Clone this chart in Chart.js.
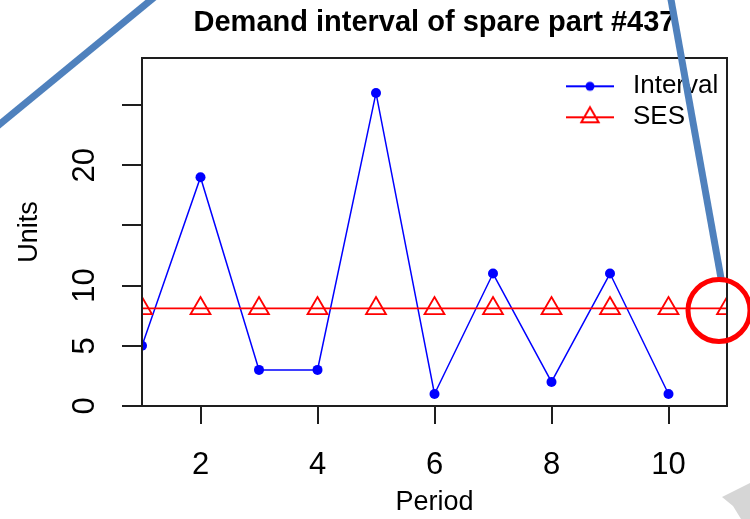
<!DOCTYPE html>
<html>
<head>
<meta charset="utf-8">
<script src="https://cdn.jsdelivr.net/npm/chart.js@4.4.1/dist/chart.umd.min.js"></script>
<style>
  html, body { margin: 0; padding: 0; background: #ffffff; }
  canvas { display: block; }
</style>
</head>
<body>
<canvas id="chart" width="750" height="519"></canvas>
<script>
// Demand interval series and its SES forecast level
const periods = [1, 2, 3, 4, 5, 6, 7, 8, 9, 10];
const intervalValues = [5, 19, 3, 3, 26, 1, 11, 2, 11, 1];
const sesPeriods = [1, 2, 3, 4, 5, 6, 7, 8, 9, 10, 11];
const sesValues = [8.1, 8.1, 8.1, 8.1, 8.1, 8.1, 8.1, 8.1, 8.1, 8.1, 8.1];
const seriesNames = ['Interval', 'SES'];

// Axis ticks
const xTickValues = [2, 4, 6, 8, 10];
const yTickValues = [0, 5, 10, 15, 20, 25];
const yTickLabels = ['0', '5', '10', '', '20', ''];

const FONT = "'Liberation Sans', Arial, sans-serif";
const INK = '#1e1e1e';

// Legend symbols: a line with the series marker in its middle
function legendSymbol(color, marker) {
  const c = document.createElement('canvas');
  c.width = 48; c.height = 26;
  const g = c.getContext('2d');
  const cy = 13;
  g.strokeStyle = color; g.fillStyle = color; g.lineWidth = 2.2;
  g.beginPath(); g.moveTo(0, cy); g.lineTo(48, cy); g.stroke();
  if (marker === 'circle') {
    g.beginPath(); g.arc(24, cy, 4.5, 0, Math.PI * 2); g.fill();
  } else {
    const r = 10;
    g.lineWidth = 2;
    g.beginPath();
    g.moveTo(24, cy - r);
    g.lineTo(24 + r * Math.sin(2 * Math.PI / 3), cy + r / 2);
    g.lineTo(24 - r * Math.sin(2 * Math.PI / 3), cy + r / 2);
    g.closePath();
    g.stroke();
  }
  return c;
}
const legendSymbols = [legendSymbol('#0000FF', 'circle'), legendSymbol('#FF0000', 'triangle')];

// Plot frame, title centring over the plot, legend placement and the hand-drawn callouts
const framePlugin = {
  id: 'framePlugin',
  afterLayout(chart) {
    const a = chart.chartArea;
    const t = chart.titleBlock;
    if (t) { t.left = a.left; t.right = a.right; t.width = a.right - a.left; }
    const lg = chart.legend;
    if (lg) {
      const w = lg.width, h = lg.height;
      lg.left = a.right - 172;
      lg.top = a.top + 10.3;
      lg.right = lg.left + w;
      lg.bottom = lg.top + h;
    }
  },
  afterDraw(chart) {
    const ctx = chart.ctx;
    const a = chart.chartArea;
    ctx.save();
    ctx.strokeStyle = INK;
    ctx.lineWidth = 2;
    ctx.strokeRect(a.left, a.top, a.right - a.left, a.bottom - a.top);

    // faint watermark fragment in the lower right corner
    ctx.fillStyle = '#d6d6d6';
    ctx.beginPath();
    ctx.moveTo(722, 497);
    ctx.lineTo(742, 487);
    ctx.lineTo(750, 483);
    ctx.lineTo(750, 519);
    ctx.lineTo(741, 519);
    ctx.lineTo(733, 506);
    ctx.closePath();
    ctx.fill();

    // callout strokes
    ctx.strokeStyle = '#4F81BD';
    ctx.lineWidth = 7;
    ctx.lineCap = 'butt';
    ctx.beginPath();
    ctx.moveTo(-6, 129);
    ctx.lineTo(157, -5);
    ctx.stroke();
    ctx.beginPath();
    ctx.moveTo(670, -6);
    ctx.lineTo(721.5, 281);
    ctx.stroke();

    // ring around the last SES forecast point
    const xs = chart.scales.x, ys = chart.scales.y;
    const last = sesPeriods.length - 1;
    const cx = xs.getPixelForValue(sesPeriods[last]) - 8;
    const cy = ys.getPixelForValue(sesValues[last]) + 2;
    ctx.strokeStyle = '#FF0000';
    ctx.lineWidth = 5;
    ctx.beginPath();
    ctx.arc(cx, cy, 31, 0, Math.PI * 2);
    ctx.stroke();
    ctx.restore();
  }
};

new Chart(document.getElementById('chart'), {
  type: 'line',
  data: {
    datasets: [
      {
        label: seriesNames[0],
        data: periods.map((p, i) => ({ x: p, y: intervalValues[i] })),
        borderColor: '#0000FF',
        backgroundColor: '#0000FF',
        borderWidth: 1.5,
        pointStyle: 'circle',
        pointRadius: 5,
        pointBackgroundColor: '#0000FF',
        pointBorderWidth: 0,
        tension: 0,
        fill: false,
        clip: 0,
        order: 1
      },
      {
        label: seriesNames[1],
        data: sesPeriods.map((p, i) => ({ x: p, y: sesValues[i] })),
        borderColor: '#FF0000',
        backgroundColor: '#FF0000',
        borderWidth: 1.8,
        pointStyle: 'triangle',
        pointRadius: 11.5,
        pointBorderColor: '#FF0000',
        pointBackgroundColor: 'rgba(0,0,0,0)',
        pointBorderWidth: 1.8,
        tension: 0,
        fill: false,
        clip: 0,
        order: 0
      }
    ]
  },
  options: {
    responsive: false,
    animation: false,
    events: [],
    layout: { padding: { left: 0, right: 23, top: 0, bottom: 0 } },
    scales: {
      x: {
        type: 'linear',
        min: 1,
        max: 11,
        bounds: 'data',
        afterBuildTicks: s => { s.ticks = xTickValues.map(v => ({ value: v })); },
        afterFit: s => { s.height = 113; },
        grid: { display: true, drawOnChartArea: false, drawTicks: true, tickLength: 18, color: INK, lineWidth: 2 },
        border: { display: false },
        ticks: {
          font: { size: 31, family: FONT },
          color: '#000000',
          padding: 23,
          autoSkip: false,
          minRotation: 0,
          maxRotation: 0,
          callback: v => String(v)
        },
        title: {
          display: true,
          text: 'Period',
          font: { size: 27, family: FONT },
          color: '#000000',
          padding: { top: 0, bottom: 0 }
        }
      },
      y: {
        type: 'linear',
        min: 0,
        max: 28.9,
        bounds: 'data',
        afterBuildTicks: s => { s.ticks = yTickValues.map(v => ({ value: v })); },
        afterFit: s => { s.width = 142; },
        grid: { display: true, drawOnChartArea: false, drawTicks: true, tickLength: 20, color: INK, lineWidth: 2 },
        border: { display: false },
        ticks: {
          font: { size: 31, family: FONT },
          color: '#000000',
          padding: 19,
          autoSkip: false,
          minRotation: 90,
          maxRotation: 90,
          crossAlign: 'center',
          callback: v => yTickLabels[yTickValues.indexOf(v)]
        },
        title: {
          display: true,
          text: 'Units',
          font: { size: 27, family: FONT },
          color: '#000000',
          padding: { top: 13, bottom: 0 }
        }
      }
    },
    plugins: {
      title: {
        display: true,
        text: 'Demand interval of spare part #437',
        font: { size: 29, weight: 'bold', family: FONT },
        color: '#000000',
        padding: { top: 6, bottom: 17.2 }
      },
      legend: {
        position: 'chartArea',
        align: 'start',
        labels: {
          usePointStyle: true,
          pointStyleWidth: 60,
          padding: 5,
          font: { size: 26, family: FONT },
          color: '#000000',
          generateLabels(chart) {
            const items = Chart.defaults.plugins.legend.labels.generateLabels(chart);
            items.sort((a, b) => a.datasetIndex - b.datasetIndex);
            items.forEach(it => {
              it.pointStyle = legendSymbols[it.datasetIndex];
              it.fontColor = '#000000';
            });
            return items;
          }
        }
      },
      tooltip: { enabled: false }
    }
  },
  plugins: [framePlugin]
});
</script>
</body>
</html>
